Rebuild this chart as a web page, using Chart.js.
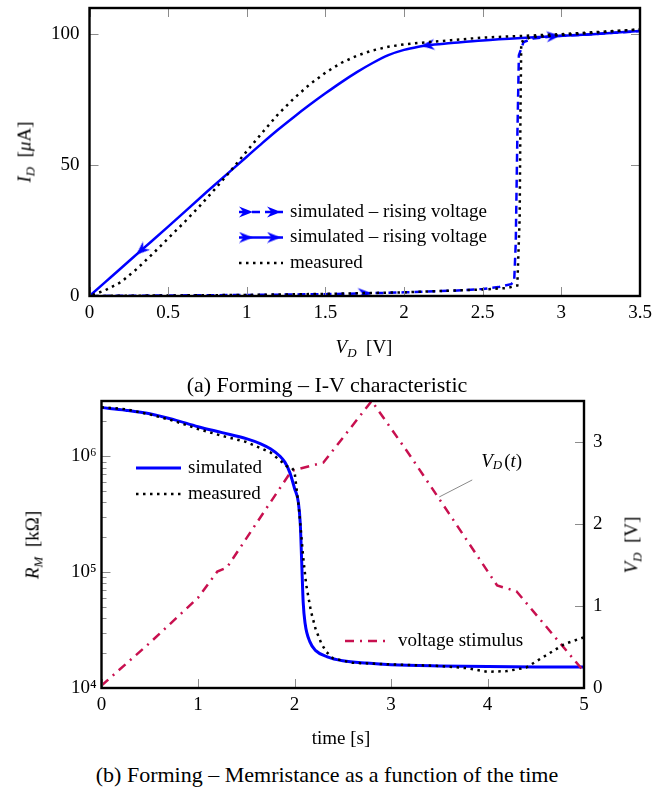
<!DOCTYPE html>
<html>
<head>
<meta charset="utf-8">
<title>Forming</title>
<script src="https://cdn.jsdelivr.net/npm/chart.js@4.4.0/dist/chart.umd.min.js"></script>
<style>
    body { margin: 0; width: 652px; height: 793px; background: #fff; position: relative; overflow: hidden;
           font-family: "Liberation Serif", "Times New Roman", serif; color: #000; }
    .fig { position: absolute; left: 0; }
    .lbl { position: absolute; transform: translate(-50%, -50%); white-space: nowrap; font-size: 19px; line-height: 1; }
    .lbl.rot { transform: translate(-50%, -50%) rotate(-90deg); }
    .lbl sub { font-size: 13px; vertical-align: -4px; line-height: 0; }
    .cap { font-size: 22px; }
</style>
</head>
<body>

<div class="fig" style="top:0; width:652px; height:360px;">
    <canvas id="ivChart" width="652" height="360"></canvas>
</div>
<div class="lbl rot" style="left:24px; top:152px;"><i>I</i><sub><i>D</i></sub>&nbsp; [<i>μ</i>A]</div>
<div class="lbl" style="left:364px; top:346px;"><i>V</i><sub><i>D</i></sub>&nbsp; [V]</div>
<div class="lbl cap" style="left:327px; top:385px;">(a) Forming – I-V characteristic</div>

<div class="fig" style="top:393px; width:652px; height:357px;">
    <canvas id="rmChart" width="652" height="357"></canvas>
</div>
<div class="lbl rot" style="left:32px; top:545px;"><i>R</i><sub><i>M</i></sub>&nbsp; [kΩ]</div>
<div class="lbl" style="left:341px; top:737px;">time [s]</div>
<div class="lbl rot" style="left:631px; top:545px;"><i>V</i><sub><i>D</i></sub>&nbsp; [V]</div>
<div class="lbl cap" style="left:327px; top:775px;">(b) Forming – Memristance as a function of the time</div>

<script>
// ---------- (a) forming: I-V characteristic ----------
const ivRiseV = [0, 0.5, 1.0, 1.5, 1.75, 2.0, 2.3, 2.5, 2.6, 2.68, 2.70, 2.71, 2.72, 2.73, 2.76, 2.82, 2.95, 3.2, 3.5];
const ivRiseI = [0, 0.2, 0.4, 0.7, 1.0, 1.4, 2.0, 2.7, 3.4, 4.5, 5.5, 20, 60, 92, 97, 98.3, 99.2, 100.0, 101.2];
const ivRiseArrows = [1.75, 2.95];

const ivFallV = [3.5, 3.2, 2.8, 2.5, 2.3, 2.15, 2.1, 2.0, 1.9, 1.8, 1.7, 1.6, 1.5, 1.4, 1.3, 1.2, 1.1, 1.0,
                 0.75, 0.5, 0.33, 0.2, 0.1, 0];
const ivFallI = [101.2, 100.0, 98.7, 97.6, 96.6, 95.8, 95.3, 94.0, 92.0, 89.0, 85.5, 81.6, 77.4, 73.0, 68.4, 63.6, 58.5, 53.2,
                 40.0, 26.5, 17.5, 10.6, 5.3, 0];
const ivFallArrows = [2.15, 0.33];

// measured sweep: up along the bottom, jump at ~2.74 V, then back down
const ivMeasV = [0, 0.5, 1.0, 1.5, 2.0, 2.5, 2.65, 2.72, 2.735, 2.74, 2.745, 2.8, 3.0, 3.5,
                 3.0, 2.5, 2.3, 2.1, 2.0, 1.9, 1.8, 1.7, 1.6, 1.5, 1.4, 1.3, 1.2, 1.1, 1.0,
                 0.9, 0.8, 0.7, 0.6, 0.5, 0.4, 0.3, 0.2, 0.1, 0];
const ivMeasI = [0, 0.2, 0.4, 0.8, 1.4, 2.5, 3.0, 4.0, 30, 70, 97, 98.8, 99.7, 101.8,
                 100.0, 98.7, 97.7, 96.7, 96.1, 95.2, 93.8, 91.8, 89.0, 85.3, 80.8, 75.5, 69.5, 62.5, 55.3,
                 48.0, 41.0, 34.3, 28.0, 22.0, 16.0, 10.3, 5.3, 2.2, 0];

const ivXTicks = [0, 0.5, 1, 1.5, 2, 2.5, 3, 3.5];
const ivYTicks = [0, 50, 100];

// ---------- (b) forming: memristance over time ----------
const rmSimT = [0, 0.25, 0.5, 0.75, 1.0, 1.25, 1.5, 1.65, 1.75, 1.85, 1.9, 1.95, 2.0, 2.04, 2.06, 2.075, 2.09, 2.11,
                2.16, 2.22, 2.34, 2.5, 2.75, 3.0, 3.5, 4.0, 4.5, 5.0];
const rmSimR = [2.63e6, 2.5e6, 2.33e6, 2.07e6, 1.8e6, 1.6e6, 1.42e6, 1.28e6, 1.16e6, 1.0e6, 8.9e5, 7.3e5, 5.3e5, 4.0e5, 2.6e5, 1.2e5, 5.5e4, 3.6e4,
                2.5e4, 2.1e4, 1.86e4, 1.72e4, 1.64e4, 1.59e4, 1.55e4, 1.53e4, 1.52e4, 1.52e4];

const rmMeasT = [0, 0.25, 0.5, 0.75, 1.0, 1.25, 1.5, 1.75, 1.85, 1.92, 1.97, 2.0, 2.045, 2.09, 2.12, 2.17, 2.22, 2.28, 2.33, 2.4,
                 2.6, 3.0, 3.5, 3.8, 4.0, 4.2, 4.4, 4.6, 4.8, 5.0];
const rmMeasR = [2.65e6, 2.55e6, 2.3e6, 2.02e6, 1.72e6, 1.5e6, 1.33e6, 1.08e6, 9.2e5, 8.2e5, 8.0e5, 7.4e5, 3.6e5, 1.35e5, 7.9e4, 4.6e4, 3.2e4, 2.4e4, 2.05e4, 1.8e4,
                 1.65e4, 1.6e4, 1.55e4, 1.48e4, 1.38e4, 1.4e4, 1.5e4, 1.9e4, 2.4e4, 2.74e4];

const vdT = [0, 0.5, 1.0, 1.2, 1.3, 1.6, 1.97, 2.3, 2.8, 3.2, 3.6, 4.1, 4.3, 4.6, 5.0];
const vdV = [0.03, 0.55, 1.1, 1.42, 1.47, 2.0, 2.65, 2.75, 3.5, 2.83, 2.13, 1.25, 1.18, 0.76, 0.2];

const rmXTicks = [0, 1, 2, 3, 4, 5];
const rmDecades = [1e4, 1e5, 1e6];
const rmDecadeLabels = ['10⁴', '10⁵', '10⁶'];
const vdYTicks = [0, 1, 2, 3];

// ---------- helpers ----------
const BLUE = '#0000ff';
const CRIMSON = '#c8104f';
const TICK_GRAY = '#8c8c8c';
const FONT = '"Liberation Serif", "Times New Roman", serif';

Chart.defaults.font.family = FONT;
Chart.defaults.font.size = 19;
Chart.defaults.color = '#000';

const pts = (xs, ys) => xs.map((x, i) => ({ x, y: ys[i] }));
const plainLabel = v => String(v);

function makeArrow(color) {
    const c = document.createElement('canvas');
    c.width = 14;
    c.height = 12;
    const g = c.getContext('2d');
    g.fillStyle = color;
    g.beginPath();
    g.moveTo(14, 6);
    g.lineTo(0, 0.5);
    g.lineTo(4.5, 6);
    g.lineTo(0, 11.5);
    g.closePath();
    g.fill();
    return c;
}
const blueArrow = makeArrow(BLUE);

// direction of travel at a point, in canvas degrees
function arrowAngle(ctx) {
    const data = ctx.dataset.data;
    const i = ctx.dataIndex;
    const a = data[Math.max(i - 1, 0)];
    const b = data[Math.min(i + 1, data.length - 1)];
    const sx = ctx.chart.scales.x, sy = ctx.chart.scales.y;
    const dx = sx.getPixelForValue(b.x) - sx.getPixelForValue(a.x);
    const dy = sy.getPixelForValue(b.y) - sy.getPixelForValue(a.y);
    return Math.atan2(dy, dx) * 180 / Math.PI;
}

const arrowRadius = list => ctx => (ctx.raw && list.includes(ctx.raw.x)) ? 6 : 0;

function fixedTicks(values) {
    return scale => { scale.ticks = values.map(v => ({ value: v })); };
}

function fixBox(size) {
    return scale => {
        if (scale.isHorizontal()) scale.height = size;
        else scale.width = size;
        scale.paddingLeft = scale.paddingRight = scale.paddingTop = scale.paddingBottom = 0;
    };
}

// inner tick marks + heavy frame, pgfplots style
const frame = {
    id: 'frame',
    afterDatasetsDraw(chart, args, opts) {
        const { ctx, chartArea: a } = chart;
        ctx.save();
        ctx.strokeStyle = TICK_GRAY;
        ctx.lineWidth = 1;
        (opts.marks || []).forEach(m => {
            const s = chart.scales[m.scale];
            s.ticks.forEach(t => {
                const len = t.major === false ? 5 : 9;
                const p = Math.round(s.getPixelForValue(t.value)) + 0.5;
                ctx.beginPath();
                m.sides.forEach(side => {
                    if (side === 'bottom') { ctx.moveTo(p, a.bottom); ctx.lineTo(p, a.bottom - len); }
                    if (side === 'top') { ctx.moveTo(p, a.top); ctx.lineTo(p, a.top + len); }
                    if (side === 'left') { ctx.moveTo(a.left, p); ctx.lineTo(a.left + len, p); }
                    if (side === 'right') { ctx.moveTo(a.right, p); ctx.lineTo(a.right - len, p); }
                });
                ctx.stroke();
            });
        });
        ctx.strokeStyle = '#000';
        ctx.lineWidth = 2.4;
        ctx.strokeRect(a.left, a.top, a.right - a.left, a.bottom - a.top);
        ctx.restore();
    }
};

// legend drawn inside the plot
const keyBox = {
    id: 'keyBox',
    afterDraw(chart, args, opts) {
        const ctx = chart.ctx;
        (opts.groups || []).forEach(grp => {
            grp.items.forEach((it, i) => {
                const y = grp.y + i * (grp.rowGap || 0);
                const x0 = grp.x, x1 = grp.x + grp.sample;
                ctx.save();
                ctx.strokeStyle = it.color;
                ctx.lineWidth = it.width;
                ctx.setLineDash(it.dash || []);
                ctx.beginPath();
                ctx.moveTo(x0, y);
                ctx.lineTo(x1, y);
                ctx.stroke();
                if (it.arrows) {
                    ctx.drawImage(blueArrow, x0, y - 6);
                    ctx.drawImage(blueArrow, x1 - 16, y - 6);
                }
                ctx.restore();
                ctx.save();
                ctx.font = '19px ' + FONT;
                ctx.fillStyle = '#000';
                ctx.textBaseline = 'middle';
                ctx.fillText(it.label, x1 + grp.gap, y);
                ctx.restore();
            });
        });
    }
};

// V_D(t) pin label on the stimulus curve
const pinLabel = {
    id: 'pinLabel',
    afterDraw(chart, args, opts) {
        if (!opts.at) return;
        const ctx = chart.ctx;
        const sx = chart.scales.x, sy = chart.scales[opts.axis];
        const px = sx.getPixelForValue(opts.at[0]);
        const py = sy.getPixelForValue(opts.at[1]);
        ctx.save();
        ctx.strokeStyle = '#8a8a8a';
        ctx.lineWidth = 1;
        ctx.beginPath();
        ctx.moveTo(px, py);
        ctx.lineTo(px + opts.line[0], py + opts.line[1]);
        ctx.stroke();
        let x = px + opts.text[0];
        const y = py + opts.text[1];
        ctx.fillStyle = '#000';
        ctx.textBaseline = 'middle';
        const parts = [
            { s: 'V', f: 'italic 19px ' + FONT, dy: 0 },
            { s: 'D', f: 'italic 13px ' + FONT, dy: 4 },
            { s: '(', f: '19px ' + FONT, dy: 0 },
            { s: 't', f: 'italic 19px ' + FONT, dy: 0 },
            { s: ')', f: '19px ' + FONT, dy: 0 }
        ];
        parts.forEach(p => {
            ctx.font = p.f;
            ctx.fillText(p.s, x, y + p.dy);
            x += ctx.measureText(p.s).width + (p.s === 'D' ? 2 : 0);
        });
        ctx.restore();
    }
};

// ---------- chart (a) ----------
new Chart(document.getElementById('ivChart'), {
    type: 'scatter',
    plugins: [frame, keyBox],
    data: {
        datasets: [
            {
                label: 'measured',
                data: pts(ivMeasV, ivMeasI),
                showLine: true,
                borderColor: '#000',
                borderWidth: 2.5,
                borderDash: [2.5, 4.5],
                pointRadius: 0
            },
            {
                label: 'simulated – rising voltage',
                data: pts(ivRiseV, ivRiseI),
                showLine: true,
                borderColor: BLUE,
                borderWidth: 2.5,
                borderDash: [8, 5],
                pointStyle: blueArrow,
                pointRadius: arrowRadius(ivRiseArrows),
                pointRotation: arrowAngle
            },
            {
                label: 'simulated – falling voltage',
                data: pts(ivFallV, ivFallI),
                showLine: true,
                borderColor: BLUE,
                borderWidth: 2.5,
                cubicInterpolationMode: 'monotone',
                pointStyle: blueArrow,
                pointRadius: arrowRadius(ivFallArrows),
                pointRotation: arrowAngle
            }
        ]
    },
    options: {
        responsive: false,
        animation: false,
        layout: { padding: { top: 8, right: 12, bottom: 0, left: 0 } },
        plugins: {
            legend: { display: false },
            tooltip: { enabled: false },
            frame: {
                marks: [
                    { scale: 'x', sides: ['bottom', 'top'] },
                    { scale: 'y', sides: ['left', 'right'] }
                ]
            },
            keyBox: {
                groups: [{
                    x: 239, y: 212, rowGap: 25.5, sample: 44, gap: 7,
                    items: [
                        { label: 'simulated – rising voltage', color: BLUE, width: 2.5, dash: [8, 5], arrows: true },
                        { label: 'simulated – rising voltage', color: BLUE, width: 2.5, arrows: true },
                        { label: 'measured', color: '#000', width: 2.5, dash: [2.5, 4.5] }
                    ]
                }]
            }
        },
        scales: {
            x: {
                type: 'linear',
                min: 0,
                max: 3.5,
                grid: { display: false, drawTicks: false },
                border: { display: false },
                ticks: { padding: 6, maxRotation: 0, autoSkip: false, callback: plainLabel },
                afterBuildTicks: fixedTicks(ivXTicks),
                afterFit: fixBox(64)
            },
            y: {
                type: 'linear',
                min: 0,
                max: 110,
                grid: { display: false, drawTicks: false },
                border: { display: false },
                ticks: { padding: 10, autoSkip: false, callback: plainLabel },
                afterBuildTicks: fixedTicks(ivYTicks),
                afterFit: fixBox(89.5)
            }
        }
    }
});

// ---------- chart (b) ----------
new Chart(document.getElementById('rmChart'), {
    type: 'scatter',
    plugins: [frame, keyBox, pinLabel],
    data: {
        datasets: [
            {
                label: 'measured',
                data: pts(rmMeasT, rmMeasR),
                yAxisID: 'y',
                showLine: true,
                borderColor: '#000',
                borderWidth: 2.5,
                borderDash: [2.5, 4.5],
                pointRadius: 0
            },
            {
                label: 'voltage stimulus',
                data: pts(vdT, vdV),
                yAxisID: 'y2',
                showLine: true,
                borderColor: CRIMSON,
                borderWidth: 2.5,
                borderDash: [9, 6, 2, 6],
                pointRadius: 0
            },
            {
                label: 'simulated',
                data: pts(rmSimT, rmSimR),
                yAxisID: 'y',
                showLine: true,
                borderColor: BLUE,
                borderWidth: 3,
                cubicInterpolationMode: 'monotone',
                pointRadius: 0
            }
        ]
    },
    options: {
        responsive: false,
        animation: false,
        layout: { padding: { top: 8, right: 0, bottom: 0, left: 0 } },
        plugins: {
            legend: { display: false },
            tooltip: { enabled: false },
            frame: {
                marks: [
                    { scale: 'x', sides: ['bottom'] },
                    { scale: 'y', sides: ['left'] },
                    { scale: 'y2', sides: ['right'] }
                ]
            },
            keyBox: {
                groups: [
                    {
                        x: 136, y: 75, rowGap: 26, sample: 45, gap: 7,
                        items: [
                            { label: 'simulated', color: BLUE, width: 3 },
                            { label: 'measured', color: '#000', width: 2.5, dash: [2.5, 4.5] }
                        ]
                    },
                    {
                        x: 345, y: 248, sample: 45, gap: 8,
                        items: [
                            { label: 'voltage stimulus', color: CRIMSON, width: 2.5, dash: [9, 6, 2, 6] }
                        ]
                    }
                ]
            },
            pinLabel: { axis: 'y2', at: [3.5, 2.33], line: [33, -17], text: [42, -35] }
        },
        scales: {
            x: {
                type: 'linear',
                min: 0,
                max: 5,
                grid: { display: false, drawTicks: false },
                border: { display: false },
                ticks: { padding: 6, maxRotation: 0, autoSkip: false, callback: plainLabel },
                afterBuildTicks: fixedTicks(rmXTicks),
                afterFit: fixBox(62)
            },
            y: {
                type: 'logarithmic',
                position: 'left',
                min: 1e4,
                max: 3e6,
                grid: { display: false, drawTicks: false },
                border: { display: false },
                ticks: {
                    padding: 5,
                    autoSkip: false,
                    callback: v => {
                        const k = rmDecades.indexOf(v);
                        return k >= 0 ? rmDecadeLabels[k] : '';
                    }
                },
                afterBuildTicks: scale => {
                    scale.ticks = [];
                    rmDecades.forEach(d => {
                        for (let m = 1; m <= 9; m++) {
                            if (d * m <= scale.max) scale.ticks.push({ value: d * m, major: m === 1 });
                        }
                    });
                },
                afterFit: fixBox(101.5)
            },
            y2: {
                type: 'linear',
                position: 'right',
                min: 0,
                max: 3.5,
                grid: { display: false, drawTicks: false },
                border: { display: false },
                ticks: { padding: 9, autoSkip: false, callback: plainLabel },
                afterBuildTicks: fixedTicks(vdYTicks),
                afterFit: fixBox(68)
            }
        }
    }
});
</script>
</body>
</html>
